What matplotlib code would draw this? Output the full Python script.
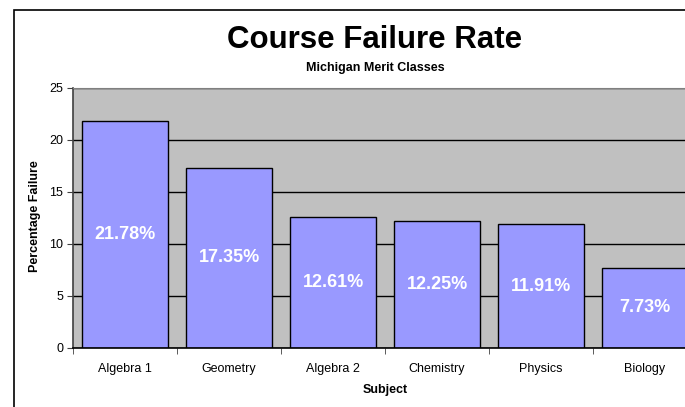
import matplotlib.pyplot as plt
from matplotlib.patches import Rectangle

plt.rcParams['font.family'] = ['Liberation Sans', 'DejaVu Sans']

subjects = ['Algebra 1', 'Geometry', 'Algebra 2', 'Chemistry', 'Physics', 'Biology']
failure_rates = [21.78, 17.35, 12.61, 12.25, 11.91, 7.73]
y_ticks = [0, 5, 10, 15, 20, 25]

W, H = 685, 407
fig = plt.figure(figsize=(W / 100, H / 100), dpi=100)

# chart area border (runs off the right and bottom edges)
fig.patches.append(Rectangle((14 / W, -0.1), 1.2, 1 - 10 / H + 0.1,
                             transform=fig.transFigure, fill=False,
                             edgecolor='black', linewidth=1.2))

# plot area, wider than the picture so the last bar is cut off
ax = fig.add_axes([73 / W, 1 - 348 / H, 624 / W, 260 / H])
ax.set_facecolor('#C0C0C0')
ax.set_axisbelow(True)
ax.yaxis.grid(True, color='black', linewidth=1)

x = range(len(subjects))
bars = ax.bar(x, failure_rates, width=0.83, color='#9999FF',
              edgecolor='black', linewidth=1)

for b, v in zip(bars, failure_rates):
    ax.text(b.get_x() + b.get_width() / 2, v / 2, f'{v:.2f}%',
            ha='center', va='center', color='white',
            fontsize=13, fontweight='bold')

ax.set_xlim(-0.5, len(subjects) - 0.5)
ax.set_ylim(0, 25)
ax.set_yticks(y_ticks)
ax.set_xticks(list(x))
ax.set_xticklabels(subjects, fontsize=9)
ax.set_xticks([i + 0.5 for i in range(-1, len(subjects))], minor=True)
ax.tick_params(axis='x', which='major', length=0, pad=11)
ax.tick_params(axis='x', which='minor', length=4, direction='out', color='#404040')
ax.tick_params(axis='y', length=4, direction='out', labelsize=9, color='#404040', pad=3)

for s in ['top', 'right']:
    ax.spines[s].set_color('#808080')
ax.spines['left'].set_color('#404040')
ax.spines['left'].set_linewidth(1.2)
ax.spines['bottom'].set_color('black')
ax.spines['bottom'].set_linewidth(1.2)

fig.text(375 / W, 1 - 40 / H, 'Course Failure Rate', ha='center', va='center',
         fontsize=22.5, fontweight='bold')
fig.text(375 / W, 1 - 68 / H, 'Michigan Merit Classes', ha='center', va='center',
         fontsize=9, fontweight='bold')
fig.text(35 / W, 1 - 216 / H, 'Percentage Failure', ha='center', va='center',
         rotation=90, fontsize=9, fontweight='bold')
fig.text(385 / W, 1 - 390 / H, 'Subject', ha='center', va='center',
         fontsize=9, fontweight='bold')

fig.savefig('out.png', dpi=100)
